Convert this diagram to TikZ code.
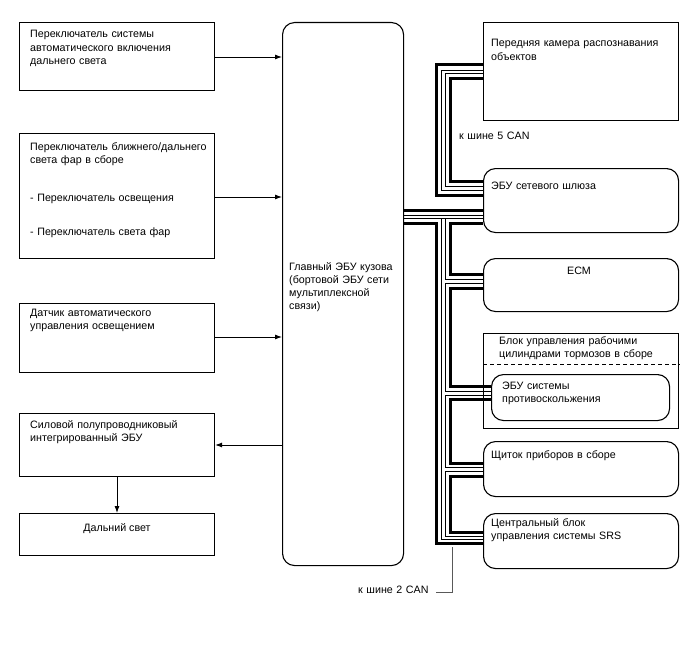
\documentclass[tikz,border=0pt]{standalone}
\usepackage{fontspec}
\setmainfont{Liberation Sans}
\usetikzlibrary{arrows.meta}
\begin{document}
\begin{tikzpicture}[x=1pt,y=-1pt,
  box/.style={draw, line width=1.1pt, inner sep=0, anchor=north west},
  rbox/.style={box, rounded corners=12pt},
  txt/.style={inner sep=0, anchor=base west, align=left, text width=220pt,
    font=\fontsize{10.7}{13.3}\selectfont},
  ctxt/.style={inner sep=0, anchor=base, font=\fontsize{10.7}{13.3}\selectfont},
  arr/.style={line width=0.9pt, -{Latex[length=7pt,width=5pt]}},
  thk/.style={line width=3pt},
  thn/.style={line width=0.9pt},
]
\useasboundingbox (0,0) rectangle (688,658);

% left boxes
\node[box, minimum width=195pt, minimum height=68pt] (b1) at (19,22) {};
\node[txt] (t1) at (30,38) {Переключатель системы\\автоматического включения\\дальнего света};
\node[box, minimum width=195pt, minimum height=125pt] (b2) at (19,133) {};
\node[txt] (t2a) at (30,150) {Переключатель ближнего/дальнего\\света фар в сборе};
\node[txt] (t2b) at (30,201) {- Переключатель освещения};
\node[txt] (t2c) at (30,235) {- Переключатель света фар};
\node[box, minimum width=195pt, minimum height=69pt] (b3) at (19,303) {};
\node[txt] (t3) at (30,316) {Датчик автоматического\\управления освещением};
\node[box, minimum width=195pt, minimum height=63pt] (b4) at (19,413) {};
\node[txt] (t4) at (30,428) {Силовой полупроводниковый\\интегрированный ЭБУ};
\node[box, minimum width=195pt, minimum height=42pt] (b5) at (19,513) {};
\node[ctxt] (t5) at (117,531) {Дальний свет};

% main ECU
\node[rbox, minimum width=121pt, minimum height=543pt] (main) at (282,22) {};
\node[txt] (tm) at (289,270) {Главный ЭБУ кузова\\(бортовой ЭБУ сети\\мультиплексной\\связи)};

% arrows
\draw[arr] (b1.east |- 0,57) -- (main.west |- 0,57);
\draw[arr] (b2.east |- 0,197) -- (main.west |- 0,197);
\draw[arr] (b3.east |- 0,337) -- (main.west |- 0,337);
\draw[arr] (main.west |- 0,445) -- (b4.east |- 0,445);
\draw[arr] (b4.south -| 117,0) -- (b5.north -| 117,0);

% right boxes
\node[box, minimum width=195pt, minimum height=98pt] (cam) at (483,22) {};
\node[txt] (tc) at (491,47) {Передняя камера распознавания\\объектов};
\node[rbox, minimum width=195pt, minimum height=64pt] (gw) at (483,168) {};
\node[txt] (tg) at (491,189) {ЭБУ сетевого шлюза};
\node[rbox, minimum width=195pt, minimum height=53pt] (ecm) at (483,258) {};
\node[ctxt] (te) at (579,274) {ECM};
\node[box, minimum width=195pt, minimum height=95pt] (brk) at (483,333) {};
\node[txt] (tb) at (499,344) {Блок управления рабочими\\цилиндрами тормозов в сборе};
\draw[line width=0.9pt, dash pattern=on 4pt off 3pt] (brk.west |- 0,364) -- (brk.east |- 0,364);
\node[rbox, minimum width=178pt, minimum height=46pt] (abs) at (491,374) {};
\node[txt] (ta) at (502,389) {ЭБУ системы\\противоскольжения};
\node[rbox, minimum width=195pt, minimum height=55pt] (ic) at (483,441) {};
\node[txt] (ti) at (491,458) {Щиток приборов в сборе};
\node[rbox, minimum width=195pt, minimum height=55pt] (srs) at (483,513) {};
\node[txt] (ts) at (491,526) {Центральный блок\\управления системы SRS};

% bus to camera (5 CAN)
\draw[thk] (cam.west |- 0,65) -- (436.5,65) -- (436.5,195) -- (gw.west |- 0,195);
\draw[thn] (cam.west |- 0,70) -- (441.5,70) -- (441.5,190) -- (gw.west |- 0,190);
\draw[thn] (cam.west |- 0,73.5) -- (445,73.5) -- (445,186.5) -- (gw.west |- 0,186.5);
\draw[thk] (cam.west |- 0,79) -- (450,79) -- (450,181) -- (gw.west |- 0,181);
\node[txt] (l5) at (459,140) {к шине 5 CAN};

% main ECU to gateway
\draw[thk] (main.east |- 0,210) -- (gw.west |- 0,210);
\draw[thn] (main.east |- 0,215) -- (gw.west |- 0,215);
\draw[thn] (main.east |- 0,218.5) -- (gw.west |- 0,218.5);
% outer trunk
\draw[thk] (main.east |- 0,223.5) -- (436.5,223.5) -- (436.5,543.5) -- (srs.west |- 0,543.5);
\draw[thn] (441.5,218.5) -- (441.5,539) -- (srs.west |- 0,539);
% bracket gateway -> ECM
\draw[thk] (gw.west |- 0,223.5) -- (450,223.5) -- (450,274.5) -- (ecm.west |- 0,274.5);
\draw[thn] (445,218.5) -- (445,279) -- (ecm.west |- 0,279);
% bracket ECM -> ABS
\draw[thn] (ecm.west |- 0,283) -- (445,283) -- (445,391.5) -- (abs.west |- 0,391.5);
\draw[thk] (ecm.west |- 0,288.5) -- (450,288.5) -- (450,386) -- (abs.west |- 0,386);
% bracket ABS -> cluster
\draw[thn] (abs.west |- 0,395) -- (445,395) -- (445,467.5) -- (ic.west |- 0,467.5);
\draw[thk] (abs.west |- 0,399.5) -- (450,399.5) -- (450,463) -- (ic.west |- 0,463);
% bracket cluster -> SRS
\draw[thn] (ic.west |- 0,471) -- (445,471) -- (445,536) -- (srs.west |- 0,536);
\draw[thk] (ic.west |- 0,476) -- (450,476) -- (450,532) -- (srs.west |- 0,532);

% 2 CAN label
\node[txt] (l2) at (358,593) {к шине 2 CAN};
\coordinate (busp) at (452,547);
\draw[line width=1pt, gray!70!black] (436,592) -- (452,592) -- (busp);
\end{tikzpicture}
\end{document}
